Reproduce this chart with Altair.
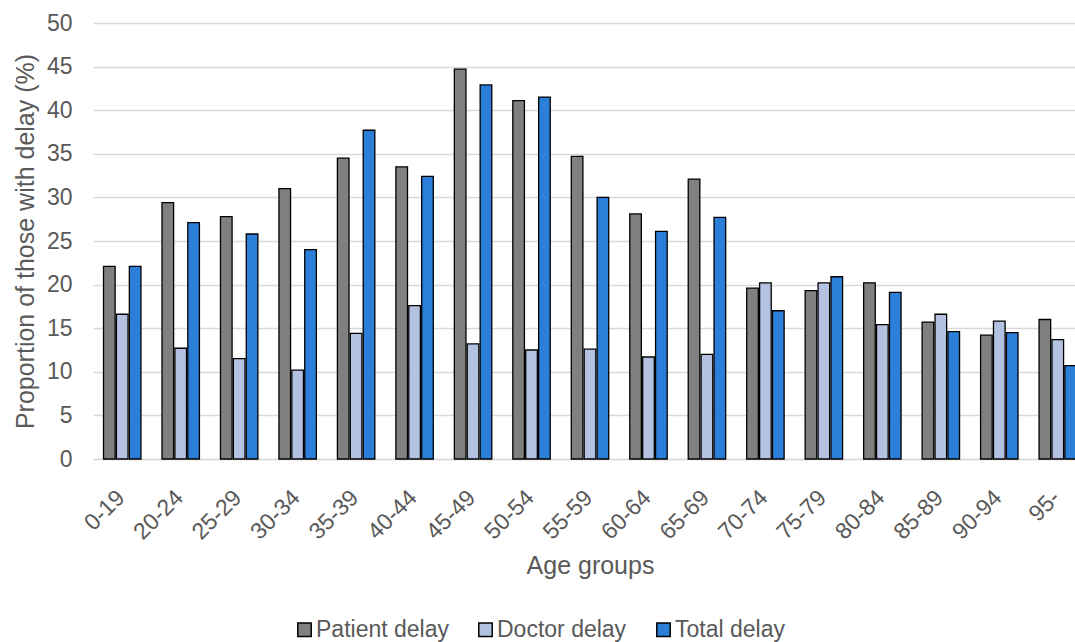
import altair as alt
import pandas as pd

ages = ["0-19", "20-24", "25-29", "30-34", "35-39", "40-44", "45-49", "50-54",
        "55-59", "60-64", "65-69", "70-74", "75-79", "80-84", "85-89", "90-94", "95-"]
patient = [22.1, 29.4, 27.8, 31.0, 34.5, 33.5, 44.7, 41.1, 34.7, 28.1, 32.1,
           19.6, 19.3, 20.2, 15.7, 14.2, 16.0]
doctor = [16.6, 12.7, 11.5, 10.2, 14.4, 17.6, 13.2, 12.5, 12.6, 11.7, 12.0,
          20.2, 20.2, 15.4, 16.6, 15.8, 13.7]
total = [22.1, 27.1, 25.8, 24.0, 37.7, 32.4, 42.9, 41.5, 30.0, 26.1, 27.7,
         17.0, 20.9, 19.1, 14.6, 14.5, 10.7]
series = ["Patient delay", "Doctor delay", "Total delay"]
colors = ["#808080", "#b4c2e1", "#2b7fd9"]

rows = []
for i, a in enumerate(ages):
    for s, vals in zip(series, [patient, doctor, total]):
        rows.append({"age": a, "series": s, "value": vals[i]})
df = pd.DataFrame(rows)

FONT = "Liberation Sans"
TXT = "#595959"

chart = alt.Chart(df).mark_bar(stroke="black", strokeWidth=1.3).encode(
    x=alt.X("age:N", sort=ages,
            scale=alt.Scale(range=[0, 994], paddingInner=0.36, paddingOuter=0.18),
            axis=alt.Axis(title="Age groups", labelAngle=-45, labelFontSize=23,
                          labelColor=TXT, titleFontSize=25, titleColor=TXT,
                          titleFontWeight="normal", ticks=False, domainColor="#d9d9d9",
                          domainWidth=1.5, labelPadding=27, labelOffset=-9,
                          titlePadding=10, labelFont=FONT, titleFont=FONT, grid=False)),
    xOffset=alt.XOffset("series:N", sort=series,
                        scale=alt.Scale(paddingInner=0.1, paddingOuter=0)),
    y=alt.Y("value:Q", scale=alt.Scale(domain=[0, 50]),
            axis=alt.Axis(title="Proportion of those with delay (%)",
                          values=list(range(0, 51, 5)), labelFontSize=23,
                          labelColor=TXT, titleFontSize=25, titleColor=TXT,
                          titleFontWeight="normal", ticks=False, domain=False,
                          gridColor="#d9d9d9", gridWidth=1.3, labelPadding=21,
                          titlePadding=8, labelFont=FONT, titleFont=FONT)),
    color=alt.Color("series:N", sort=series,
                    scale=alt.Scale(domain=series, range=colors),
                    legend=alt.Legend(title=None, orient="none", direction="horizontal",
                                      legendX=200, legendY=595, symbolType="square",
                                      symbolSize=180, symbolStrokeColor="black",
                                      symbolStrokeWidth=1.5, labelFontSize=23,
                                      labelColor=TXT, labelFont=FONT, columnPadding=25,
                                      labelOffset=0)),
).properties(
    width=982, height=436,
    autosize=alt.AutoSizeParams(type="none"),
    padding={"left": 93, "top": 23, "right": 0, "bottom": 183},
    background="white",
).configure_view(stroke=None)

chart.save("out.html", embed_options={"renderer": "svg", "actions": False})
